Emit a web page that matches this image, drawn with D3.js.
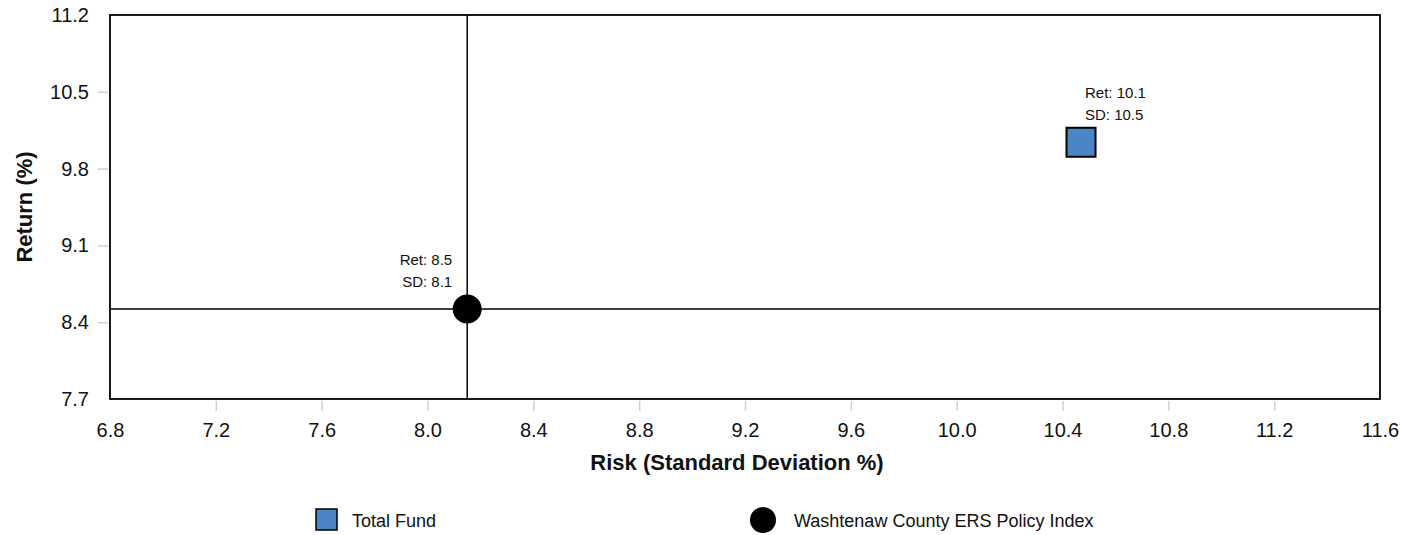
<!DOCTYPE html>
<html>
<head>
<meta charset="utf-8">
<script src="https://cdnjs.cloudflare.com/ajax/libs/d3/7.8.5/d3.min.js"></script>
<style>
    body { margin: 0; background: #fff; }
    svg { font-family: "Liberation Sans", Arial, sans-serif; }
</style>
</head>
<body>
<svg id="chart" width="1420" height="535"></svg>
<script>
// Data
const names = ["Total Fund", "Washtenaw County ERS Policy Index"];
const risk = [10.47, 8.15];
const ret = [10.04, 8.52];
const riskLabels = ["10.5", "8.1"];
const retLabels = ["10.1", "8.5"];
const xTicks = [6.8, 7.2, 7.6, 8.0, 8.4, 8.8, 9.2, 9.6, 10.0, 10.4, 10.8, 11.2, 11.6];
const yTicks = [7.7, 8.4, 9.1, 9.8, 10.5, 11.2];

const svg = d3.select("#chart");
const m = { left: 110, right: 1380, top: 15, bottom: 399 };

const x = d3.scaleLinear().domain([6.8, 11.6]).range([m.left, m.right]);
const y = d3.scaleLinear().domain([7.7, 11.2]).range([m.bottom, m.top]);

// Axes
const xAxis = svg.append("g")
    .attr("transform", `translate(0,${m.bottom + 2})`)
    .call(d3.axisBottom(x).tickValues(xTicks).tickFormat(d3.format(".1f")).tickSize(10).tickPadding(12));
const yAxis = svg.append("g")
    .attr("transform", `translate(${m.left - 2},0)`)
    .call(d3.axisLeft(y).tickValues(yTicks).tickFormat(d3.format(".1f")).tickSize(10).tickPadding(9));

[xAxis, yAxis].forEach(a => {
    a.select(".domain").remove();
    a.selectAll(".tick line").attr("stroke", "#d0d0d0").attr("stroke-width", 1.5);
    a.selectAll(".tick text")
        .attr("fill", "#111")
        .style("font-size", "20px")
        .style("font-family", "'Liberation Sans', Arial, sans-serif");
});
// hide ticks at the ends (covered by frame in reference)
xAxis.selectAll(".tick line").filter(d => d === 6.8 || d === 11.6).remove();
yAxis.selectAll(".tick line").filter(d => d === 7.7 || d === 11.2).remove();

// Frame
svg.append("rect")
    .attr("x", m.left).attr("y", m.top)
    .attr("width", m.right - m.left).attr("height", m.bottom - m.top)
    .attr("fill", "none").attr("stroke", "#000").attr("stroke-width", 1.8);

// Crosshair through the policy index
svg.append("line")
    .attr("x1", x(risk[1])).attr("x2", x(risk[1]))
    .attr("y1", m.top).attr("y2", m.bottom)
    .attr("stroke", "#000").attr("stroke-width", 1.5);
svg.append("line")
    .attr("x1", m.left).attr("x2", m.right)
    .attr("y1", y(ret[1])).attr("y2", y(ret[1]))
    .attr("stroke", "#000").attr("stroke-width", 1.5);

// Points
const sq = 29;
svg.append("rect")
    .attr("x", x(risk[0]) - sq / 2).attr("y", y(ret[0]) - sq / 2)
    .attr("width", sq).attr("height", sq)
    .attr("fill", "#4a85c5").attr("stroke", "#000").attr("stroke-width", 2);
svg.append("circle")
    .attr("cx", x(risk[1])).attr("cy", y(ret[1])).attr("r", 14.5)
    .attr("fill", "#000");

// Point labels
const labelFont = "15px";
const lab = (i, dx, anchor) => {
    const g = svg.append("g").attr("text-anchor", anchor).style("font-size", labelFont).attr("fill", "#111");
    g.append("text").attr("x", x(risk[i]) + dx).attr("y", y(ret[i]) - 44).text(`Ret: ${retLabels[i]}`);
    g.append("text").attr("x", x(risk[i]) + dx).attr("y", y(ret[i]) - 22).text(`SD: ${riskLabels[i]}`);
};
lab(0, 4, "start");
lab(1, -15, "end");

// Axis titles
svg.append("text")
    .attr("x", 737).attr("y", 470)
    .attr("text-anchor", "middle")
    .style("font-size", "22px").style("font-weight", "bold")
    .attr("fill", "#111")
    .text("Risk (Standard Deviation %)");
svg.append("text")
    .attr("transform", `translate(32,${(m.top + m.bottom) / 2}) rotate(-90)`)
    .attr("text-anchor", "middle")
    .style("font-size", "22px").style("font-weight", "bold")
    .attr("fill", "#111")
    .text("Return (%)");

// Legend
const legend = svg.append("g").style("font-size", "18px").attr("fill", "#111");
legend.append("rect")
    .attr("x", 316).attr("y", 509).attr("width", 21).attr("height", 21)
    .attr("fill", "#4a85c5").attr("stroke", "#000").attr("stroke-width", 1.5);
legend.append("text").attr("x", 352).attr("y", 527).text(names[0]);
legend.append("circle").attr("cx", 763).attr("cy", 520).attr("r", 13).attr("fill", "#000");
legend.append("text").attr("x", 794).attr("y", 527).text(names[1]);
</script>
</body>
</html>
